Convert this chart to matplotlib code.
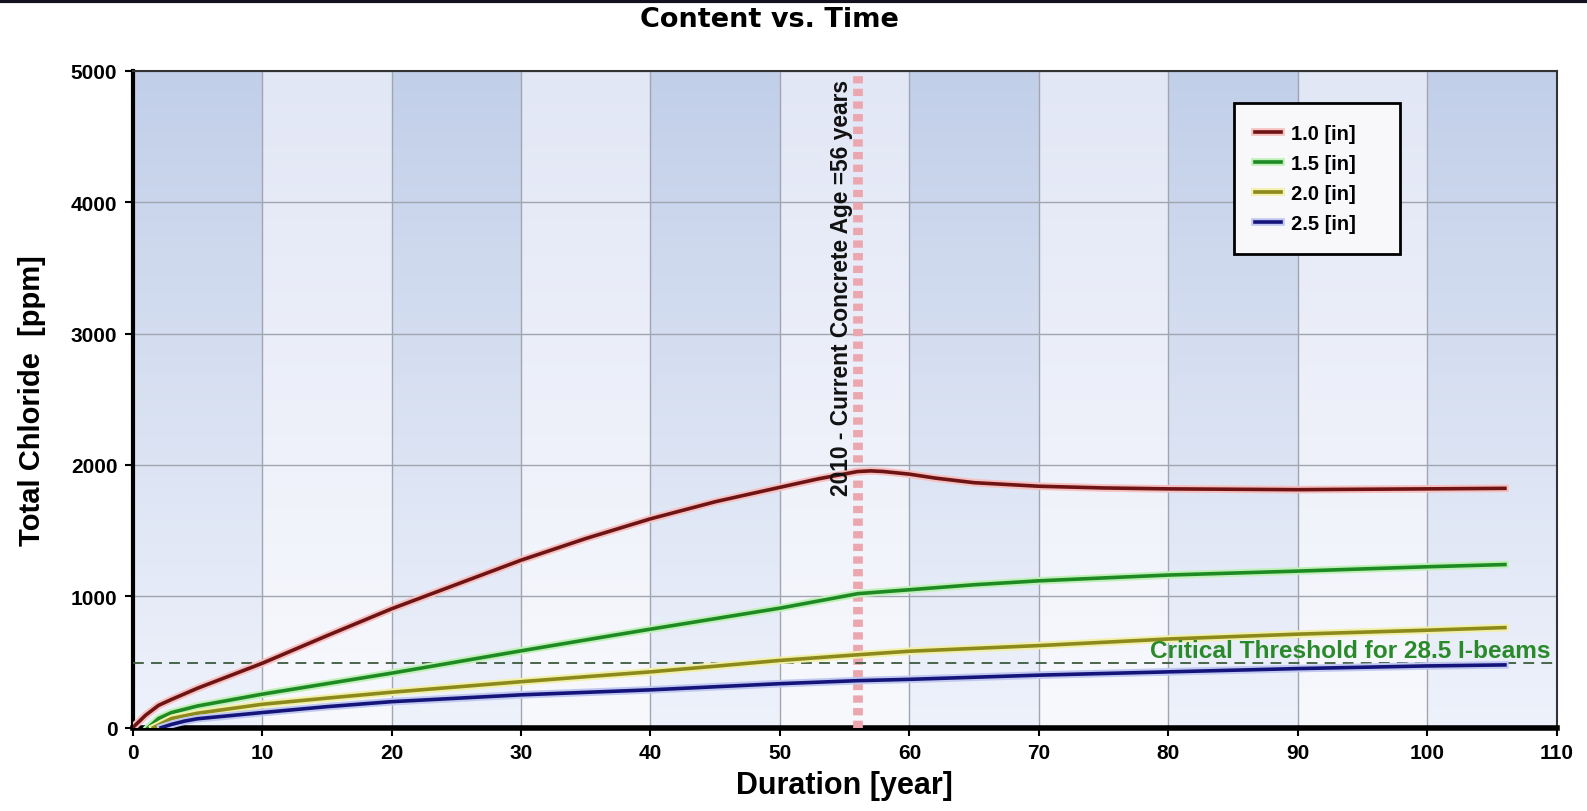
import numpy as np
import matplotlib.pyplot as plt
import matplotlib.patheffects as pe
from matplotlib.lines import Line2D

plt.rcParams['font.family'] = ['Liberation Sans', 'DejaVu Sans']
plt.rcParams['font.weight'] = 'bold'

# chloride content at four cover depths
x_10 = [0, 1, 2, 3, 5, 10, 15, 20, 25, 30, 35, 40, 45, 50, 53, 56, 57, 58, 60, 62, 65, 70, 75, 80, 90, 100, 106]
y_10 = [0, 95, 170, 215, 300, 490, 700, 905, 1090, 1275, 1440, 1590, 1720, 1830, 1895, 1950, 1955, 1950, 1930, 1900, 1865, 1838, 1825, 1818, 1812, 1818, 1822]

x_15 = [1.2, 2, 3, 5, 10, 15, 20, 25, 30, 35, 40, 45, 50, 56, 60, 65, 70, 80, 90, 100, 106]
y_15 = [0, 70, 115, 165, 255, 335, 415, 500, 585, 668, 750, 830, 910, 1020, 1050, 1088, 1118, 1162, 1192, 1225, 1242]

x_20 = [1.6, 2.5, 3, 5, 10, 15, 20, 25, 30, 35, 40, 45, 50, 56, 60, 70, 80, 90, 100, 106]
y_20 = [0, 45, 70, 110, 178, 225, 270, 310, 350, 388, 425, 468, 512, 555, 582, 625, 675, 712, 742, 762]

x_25 = [2.2, 3, 4, 5, 10, 15, 20, 30, 40, 50, 56, 60, 70, 80, 90, 100, 106]
y_25 = [0, 25, 50, 68, 115, 160, 198, 250, 288, 335, 358, 368, 400, 425, 450, 470, 478]

threshold = 490
current_age = 56

series = [
    (x_10, y_10, '1.0 [in]', '#6e1414', '#f7c0c0'),
    (x_15, y_15, '1.5 [in]', '#1d8a24', '#c0f0b8'),
    (x_20, y_20, '2.0 [in]', '#8c8a1c', '#f2f0a8'),
    (x_25, y_25, '2.5 [in]', '#14147a', '#c0c8f0'),
]

fig = plt.figure(figsize=(15.87, 8.12), dpi=100)
ax = fig.add_axes([0.0836, 0.1026, 0.8973, 0.8089])

# banded background, darker at the top
nrows = 200
fade = np.linspace(0, 1, nrows)[:, None]  # 0 = bottom, 1 = top
dark_top = np.array([194, 207, 233]) / 255
dark_bot = np.array([238, 242, 251]) / 255
light_top = np.array([226, 231, 246]) / 255
light_bot = np.array([248, 249, 253]) / 255
cols = []
for i in range(11):
    if i % 2 == 0:
        c = dark_bot + (dark_top - dark_bot) * fade
    else:
        c = light_bot + (light_top - light_bot) * fade
    cols.append(np.repeat(c[:, None, :], 10, axis=1))
bg = np.concatenate(cols, axis=1)
ax.imshow(bg, extent=[0, 110, 0, 5000], origin='lower', aspect='auto', zorder=0)

ax.set_xlim(0, 110)
ax.set_ylim(0, 5000)
ax.set_xticks(range(0, 111, 10))
ax.set_yticks(range(0, 5001, 1000))
ax.grid(True, color='#a0a5af', lw=1, zorder=1)

for xs, ys, lab, col, glow in series:
    ax.plot(xs, ys, color=col, lw=2.6, label=lab, zorder=4,
            path_effects=[pe.Stroke(linewidth=5.5, foreground=glow), pe.Normal()])

# current age marker
ax.axvline(current_age, color='#eba6ae', lw=7, ls=(0, (0.75, 0.55)), zorder=3)
ax.text(54.75, 4935, '2010 - Current Concrete Age =56 years', rotation=90,
        ha='center', va='top', fontsize=16.4, fontweight='bold', color='#111111', zorder=5)

# threshold
ax.axhline(threshold, color='#3c5a3c', lw=1.3, ls=(0, (6, 4)), zorder=3)
ax.text(109.5, threshold + 12, 'Critical Threshold for 28.5 I-beams', ha='right', va='bottom',
        fontsize=17.6, fontweight='bold', color='#2a8a2a', zorder=5)

ax.spines['left'].set_linewidth(3)
ax.spines['bottom'].set_linewidth(4)
ax.spines['top'].set_linewidth(1.5)
ax.spines['right'].set_linewidth(1.5)
ax.spines['top'].set_color('#333333')
ax.spines['right'].set_color('#333333')
ax.tick_params(direction='out', length=6, width=1.5, labelsize=15, pad=5)
for t in ax.get_xticklabels() + ax.get_yticklabels():
    t.set_fontweight('bold')

ax.set_xlabel('Duration [year]', fontsize=22, fontweight='bold', labelpad=6)
ax.set_ylabel('Total Chloride  [ppm]', fontsize=21, fontweight='bold', labelpad=18)
fig.text(0.485, 0.975, 'Content vs. Time', ha='center', va='center', fontsize=19.5,
         fontweight='bold', family='DejaVu Sans')

leg = ax.legend(loc='upper left', bbox_to_anchor=(0.7737, 0.9511 - 0.25, 0.1166, 0.25),
                mode='expand', borderaxespad=0,
                fancybox=False, framealpha=1, handlelength=1.3, handletextpad=0.5,
                labelspacing=0.55, borderpad=1.03, prop={'size': 14.5, 'weight': 'bold'})
leg.get_frame().set_edgecolor('black')
leg.get_frame().set_linewidth(2)
leg.get_frame().set_facecolor('#f8f8fa')

fig.add_artist(Line2D([0, 1], [0.998, 0.998], color='#111122', lw=3, transform=fig.transFigure))

fig.savefig('out.png', dpi=100)
